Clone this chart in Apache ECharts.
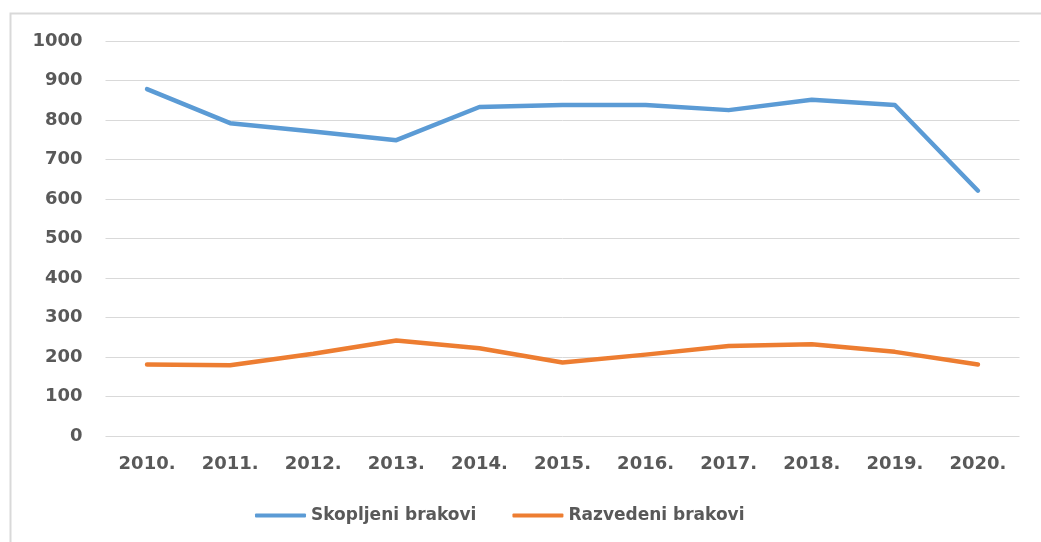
<!DOCTYPE html>
<html>
<head>
<meta charset="utf-8">
<script src="https://cdn.jsdelivr.net/npm/echarts@6/dist/echarts.min.js"></script>
<style>
  html, body { margin: 0; padding: 0; background: #fff; }
  #chart { width: 1041px; height: 542px; }
</style>
</head>
<body>
<div id="chart"></div>
<script>
// godine
const years = ['2010.', '2011.', '2012.', '2013.', '2014.', '2015.', '2016.', '2017.', '2018.', '2019.', '2020.'];
// vrijednosti procitane sa slike
const skopljeni = [878, 792, 771, 749, 833, 838, 838, 825, 851, 838, 621];
const razvedeni = [181, 179, 208, 242, 222, 186, 206, 228, 232, 213, 181];

const labelColor = '#595959';
const fontFam = '"DejaVu Sans", sans-serif';

const myChart = echarts.init(document.getElementById('chart'));
myChart.setOption({
  animation: false,
  color: ['#5B9BD5', '#ED7D31'],
  graphic: [{
    type: 'rect',
    shape: { x: 10.5, y: 13.5, width: 1100, height: 600 },
    style: { fill: 'none', stroke: '#d9d9d9', lineWidth: 2 }
  }],
  grid: { left: 105.5, right: 21.5, top: 41, bottom: 106 },
  legend: {
    data: ['Skopljeni brakovi', 'Razvedeni brakovi'],
    bottom: 13,
    left: 250,
    icon: 'roundRect',
    itemWidth: 51,
    itemHeight: 4,
    itemGap: 36,
    textStyle: { color: labelColor, fontSize: 17, fontWeight: 'bold', fontFamily: fontFam }
  },
  xAxis: {
    type: 'category',
    data: years,
    boundaryGap: true,
    axisLine: { show: false },
    axisTick: { show: false },
    axisLabel: { color: labelColor, fontSize: 18, fontWeight: 'bold', fontFamily: fontFam, margin: 19 }
  },
  yAxis: {
    type: 'value',
    min: 0,
    max: 1000,
    interval: 100,
    axisLine: { show: false },
    axisTick: { show: false },
    splitLine: { lineStyle: { color: '#d9d9d9', width: 1 } },
    axisLabel: {
      color: labelColor, fontSize: 18, fontWeight: 'bold', fontFamily: fontFam, margin: 23,
      formatter: v => String(v)
    }
  },
  series: [
    {
      name: 'Skopljeni brakovi',
      type: 'line',
      data: skopljeni,
      symbol: 'none',
      lineStyle: { width: 4.5, cap: 'round', join: 'round' }
    },
    {
      name: 'Razvedeni brakovi',
      type: 'line',
      data: razvedeni,
      symbol: 'none',
      lineStyle: { width: 4.5, cap: 'round', join: 'round' }
    }
  ]
});
</script>
</body>
</html>
